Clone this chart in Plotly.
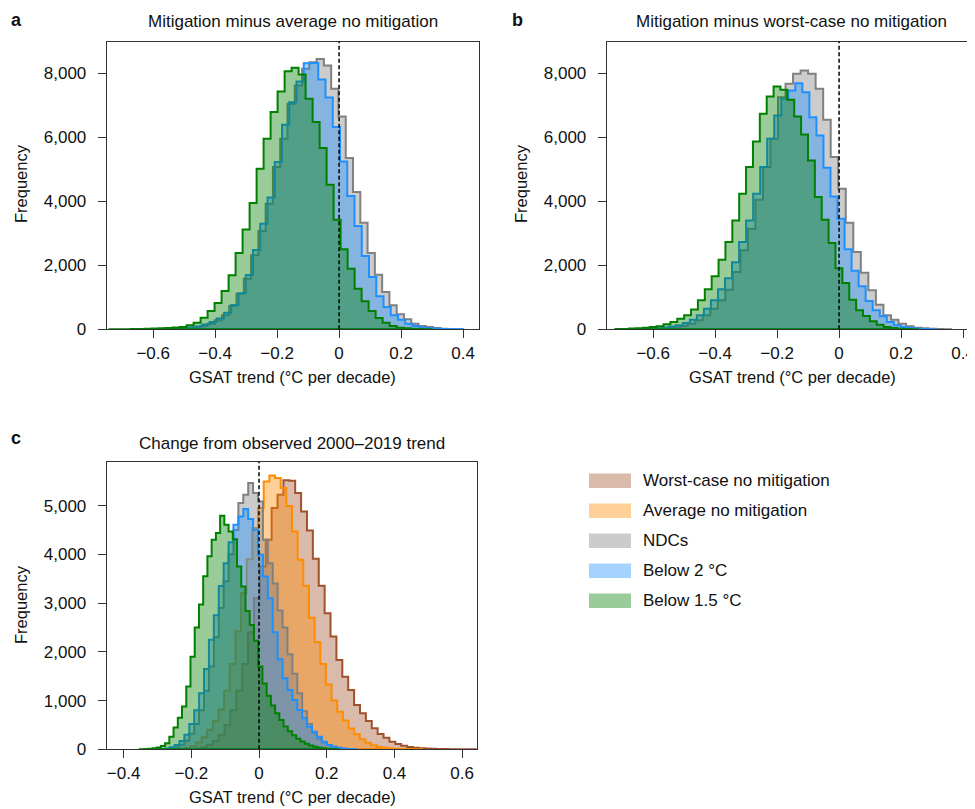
import numpy as np
import plotly.graph_objects as go

# ---------------- data (histogram counts) ----------------
# Panel a: mitigation minus average no mitigation
NDC_A_START, NDC_A_WIDTH = -0.5425, 0.0235
NDC_A = [10, 20, 35, 60, 104, 177, 281, 437, 729, 1115, 1583, 2313, 3073, 3927, 5073, 5958,
         7052, 7625, 8150, 8350, 8450, 8250, 7521, 6656, 5354, 4292, 3333, 2385, 1708, 1167,
         750, 469, 312, 177, 104, 73, 40, 20, 10, 5]
B2_A_START, B2_A_WIDTH = -0.582, 0.0234
B2_A = [5, 10, 18, 30, 55, 90, 150, 230, 340, 520, 760, 1130, 1700, 2480, 3300, 4120, 5230,
        6400, 7100, 7750, 8323, 8330, 7810, 7250, 6323, 5250, 4167, 3229, 2292, 1635, 1031,
        698, 437, 302, 177, 104, 52, 30, 15, 8, 4, 2]
B15_A_START, B15_A_WIDTH = -0.7408, 0.0226
B15_A = [2, 4, 6, 9, 12, 16, 22, 30, 40, 55, 73, 125, 208, 365, 573, 823, 1198, 1688, 2385,
         3125, 3948, 5021, 5958, 6792, 7438, 8073, 8177, 7969, 7208, 6479, 5667, 4521, 3427,
         2500, 1896, 1271, 875, 573, 354, 208, 104, 52, 30, 15, 8, 4]

# Panel b: mitigation minus worst-case no mitigation
NDC_B_START, NDC_B_WIDTH = -0.6345, 0.0243
NDC_B = [5, 10, 20, 35, 60, 104, 177, 281, 437, 646, 906, 1240, 1792, 2470, 3146, 4050, 5073,
         5958, 7260, 7677, 7990, 8094, 7990, 7521, 6552, 5385, 4396, 3333, 2417, 1771, 1219,
         771, 437, 302, 177, 94, 52, 30, 15, 8, 4]
B2_B_START, B2_B_WIDTH = -0.6633, 0.0227
B2_B = [6, 12, 20, 35, 55, 85, 130, 200, 300, 440, 640, 906, 1250, 1600, 2100, 2729, 3406,
        4240, 5073, 5958, 6688, 7208, 7469, 7698, 7417, 6635, 6063, 5052, 4156, 3458, 2500,
        1833, 1344, 885, 594, 406, 229, 125, 73, 40, 20, 10, 5]
B15_B_START, B15_B_WIDTH = -0.722, 0.0222
B15_B = [8, 14, 22, 35, 50, 70, 94, 156, 229, 333, 437, 620, 906, 1250, 1656, 2177, 2729,
         3406, 4240, 5073, 5875, 6740, 7281, 7594, 7490, 7177, 6656, 6094, 5281, 4135, 3427,
         2698, 1906, 1450, 927, 594, 417, 250, 146, 73, 40, 20, 10, 5]

# Panel c: change from observed 2000-2019 trend
WORST_C_START, WORST_C_WIDTH = -0.2064, 0.0174
WORST_C = [8, 20, 45, 90, 170, 300, 500, 800, 1200, 1750, 2400, 3100, 3750, 4300, 4950, 5223,
           5520, 5510, 5257, 4880, 4490, 3908, 3354, 2793, 2314, 1835, 1492, 1218, 910, 739,
           582, 431, 315, 240, 157, 110, 75, 50, 35, 25, 17, 12, 8, 6, 4, 3, 2, 2, 1]
AVG_C_START, AVG_C_WIDTH = -0.2534, 0.0167
AVG_C = [5, 12, 30, 70, 140, 250, 400, 580, 820, 1200, 1750, 2420, 3200, 3900, 4540, 4950,
         5497, 5620, 5565, 5360, 4990, 4470, 3887, 3354, 2700, 2200, 1750, 1330, 1000, 770,
         590, 430, 310, 210, 135, 85, 50, 32, 20, 13, 8, 5, 3, 2]
NDC_C_START, NDC_C_WIDTH = -0.2785, 0.0145
NDC_C = [8, 20, 45, 95, 180, 320, 520, 800, 1200, 1700, 2300, 2900, 3450, 4000, 4500, 5052,
         5223, 5462, 5257, 5086, 4299, 3820, 3400, 2850, 2500, 1950, 1550, 1150, 780, 520,
         340, 220, 140, 90, 55, 35, 20, 10, 5]
B2_C_START, B2_C_WIDTH = -0.293, 0.0145
B2_C = [8, 20, 45, 90, 170, 300, 520, 800, 1150, 1650, 2250, 2750, 3350, 3820, 4250, 4607,
        4778, 4928, 4723, 4504, 3991, 3546, 3100, 2400, 1850, 1458, 1218, 1013, 808, 637,
        465, 363, 260, 157, 89, 55, 30, 15, 8, 4]
B15_C_START, B15_C_WIDTH = -0.3525, 0.0125
B15_C = [4, 8, 15, 25, 40, 70, 123, 260, 450, 650, 880, 1290, 1900, 2500, 2970, 3550, 3960,
         4300, 4440, 4792, 4607, 4470, 4312, 3750, 3340, 2840, 2550, 2230, 1700, 1350, 1100,
         900, 740, 600, 470, 370, 290, 220, 160, 115, 80, 55, 35, 22, 12, 6, 3]

SERIES_NAMES = ["Worst-case no mitigation", "Average no mitigation", "NDCs",
                "Below 2 °C", "Below 1.5 °C"]
X_TICKS_AB = [-0.6, -0.4, -0.2, 0, 0.2, 0.4]
Y_TICKS_AB = [0, 2000, 4000, 6000, 8000]
X_TICKS_C = [-0.4, -0.2, 0, 0.2, 0.4, 0.6]
Y_TICKS_C = [0, 1000, 2000, 3000, 4000, 5000]

# ---------------- styling ----------------
COL = {
    "worst": (160, 82, 45),
    "avg": (255, 140, 0),
    "ndc": (128, 128, 128),
    "b2": (30, 144, 255),
    "b15": (0, 128, 0),
}
FONT = "Liberation Sans, Arial, Helvetica, sans-serif"
OFF = 8                      # page body margin around the figure
SY = 0.9876                  # observed vertical scale of the captured page
W = 975 - OFF
H = int(round((809 - OFF) / SY)) + 1


def px(x):
    return (x - OFF) / W


def py(y):
    return 1 - (y - OFF) / (SY * H)


def rgb(c):
    return "rgb(%d,%d,%d)" % c


def rgba(c, a):
    return "rgba(%d,%d,%d,%.2f)" % (c[0], c[1], c[2], a)


fig = go.Figure()


def add_hist(start, width, counts, key, xa, ya):
    counts = np.asarray(counts, dtype=float)
    edges = start + width * np.arange(len(counts) + 1)
    xs = np.concatenate([[edges[0]], edges, [edges[0]]])
    ys = np.concatenate([[0.0], counts, [0.0, 0.0]])
    fig.add_trace(go.Scatter(
        x=xs, y=ys, mode="lines", line=dict(shape="hv", color=rgb(COL[key]), width=2),
        fill="toself", fillcolor=rgba(COL[key], 0.4), xaxis=xa, yaxis=ya,
        showlegend=False, hoverinfo="skip"))


# panel a
add_hist(NDC_A_START, NDC_A_WIDTH, NDC_A, "ndc", "x", "y")
add_hist(B2_A_START, B2_A_WIDTH, B2_A, "b2", "x", "y")
add_hist(B15_A_START, B15_A_WIDTH, B15_A, "b15", "x", "y")
# panel b
add_hist(NDC_B_START, NDC_B_WIDTH, NDC_B, "ndc", "x2", "y2")
add_hist(B2_B_START, B2_B_WIDTH, B2_B, "b2", "x2", "y2")
add_hist(B15_B_START, B15_B_WIDTH, B15_B, "b15", "x2", "y2")
# panel c
add_hist(WORST_C_START, WORST_C_WIDTH, WORST_C, "worst", "x3", "y3")
add_hist(AVG_C_START, AVG_C_WIDTH, AVG_C, "avg", "x3", "y3")
add_hist(NDC_C_START, NDC_C_WIDTH, NDC_C, "ndc", "x3", "y3")
add_hist(B2_C_START, B2_C_WIDTH, B2_C, "b2", "x3", "y3")
add_hist(B15_C_START, B15_C_WIDTH, B15_C, "b15", "x3", "y3")

AX = dict(showline=True, mirror=True, linecolor="#333333", linewidth=1, ticks="outside",
          ticklen=8, tickwidth=1, tickcolor="#333333", showgrid=False, zeroline=False,
          tickfont=dict(family=FONT, size=17, color="#111111"), fixedrange=True)
XAX = dict(AX)
YAX = dict(AX, ticklabelstandoff=8, tickformat=",d")

# panel b runs off the right edge of the picture: keep the same x scale as panel a
B_RIGHT = -0.75 + 1.2 * (OFF + W - 606.7) / (478.5 - 106.7)

fig.update_layout(
    width=W, height=H, autosize=False,
    margin=dict(l=0, r=0, t=0, b=0),
    paper_bgcolor="white", plot_bgcolor="white",
    font=dict(family=FONT, size=17, color="#111111"),
    showlegend=False,
    xaxis=dict(XAX, domain=[px(106.7), px(478.5)], range=[-0.75, 0.45], tickvals=X_TICKS_AB, anchor="y"),
    yaxis=dict(YAX, domain=[py(329.3), py(41.5)], range=[0, 9000], tickvals=Y_TICKS_AB, anchor="x"),
    xaxis2=dict(XAX, domain=[px(606.7), 1.0], range=[-0.75, B_RIGHT], tickvals=X_TICKS_AB, anchor="y2"),
    yaxis2=dict(YAX, mirror=False, domain=[py(329.3), py(41.5)], range=[0, 9000], tickvals=Y_TICKS_AB,
                anchor="x2"),
    xaxis3=dict(XAX, domain=[px(106.7), px(476.7)], range=[-0.45, 0.643], tickvals=X_TICKS_C, anchor="y3"),
    yaxis3=dict(YAX, domain=[py(749.3), py(461.7)], range=[0, 5900], tickvals=Y_TICKS_C, anchor="x3"),
)

# dashed zero lines
for xa, ya in (("x", "y"), ("x2", "y2"), ("x3", "y3")):
    fig.add_shape(type="line", xref=xa, yref=ya + " domain", x0=0, x1=0, y0=0, y1=1,
                  line=dict(color="black", width=1.5, dash="4px,2.5px"), layer="above")

ann = []


def text(x, y, s, size=17, bold=False, angle=0, xanchor="center"):
    ann.append(dict(x=px(x), y=py(y), xref="paper", yref="paper", text=("<b>%s</b>" % s) if bold else s,
                    showarrow=False, xanchor=xanchor, yanchor="middle", textangle=angle,
                    font=dict(family=FONT, size=size, color="#111111")))


text(293, 21, "Mitigation minus average no mitigation", 17)
text(791, 21, "Mitigation minus worst-case no mitigation", 17)
text(292, 443, "Change from observed 2000–2019 trend", 17)
text(292.6, 377, "GSAT trend (°C per decade)", 16.5)
text(792, 377, "GSAT trend (°C per decade)", 16.5)
text(292, 797, "GSAT trend (°C per decade)", 16.5)
text(21, 184, "Frequency", 16.5, angle=-90)
text(521, 184, "Frequency", 16.5, angle=-90)
text(21, 605, "Frequency", 16.5, angle=-90)
text(16, 20, "a", 18, bold=True)
text(517, 20, "b", 18, bold=True)
text(16, 438, "c", 18, bold=True)

# legend (manual)
legend_keys = ["worst", "avg", "ndc", "b2", "b15"]
for i, (key, name) in enumerate(zip(legend_keys, SERIES_NAMES)):
    yc = 480.7 + 30 * i
    fig.add_shape(type="rect", xref="paper", yref="paper", x0=px(589), x1=px(631),
                  y0=py(yc + 7.2), y1=py(yc - 7.2), line=dict(width=0),
                  fillcolor=rgba(COL[key], 0.4))
    text(641, yc, name, 17, xanchor="left")

fig.update_layout(annotations=ann)
fig.write_html("out.html")
